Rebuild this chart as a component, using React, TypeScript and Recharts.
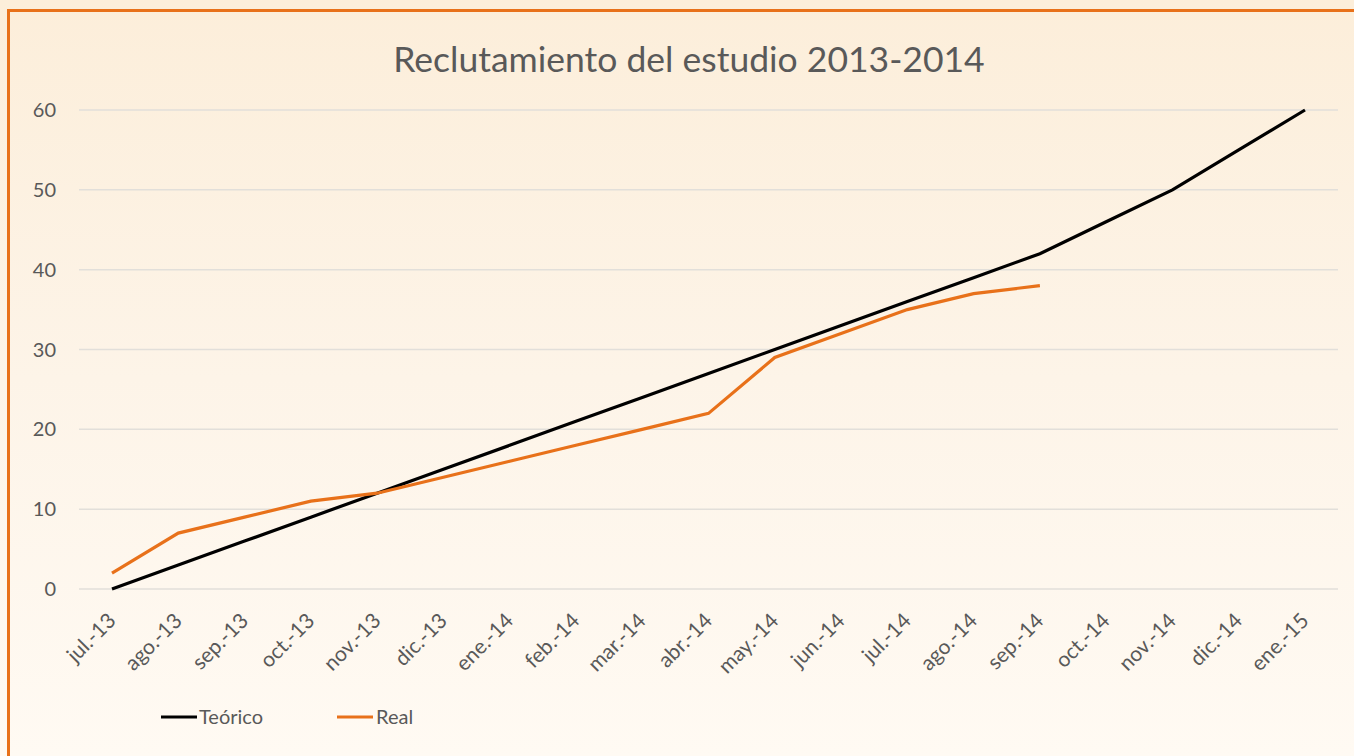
import React from "react";
import { LineChart, Line, XAxis, YAxis, CartesianGrid, Legend } from "recharts";

const months = [
  "jul.-13", "ago.-13", "sep.-13", "oct.-13", "nov.-13", "dic.-13", "ene.-14",
  "feb.-14", "mar.-14", "abr.-14", "may.-14", "jun.-14", "jul.-14", "ago.-14",
  "sep.-14", "oct.-14", "nov.-14", "dic.-14", "ene.-15",
];
const teorico = [0, 3, 6, 9, 12, 15, 18, 21, 24, 27, 30, 33, 36, 39, 42, 46, 50, 55, 60];
const real: (number | null)[] = [2, 7, 9, 11, 12, 14, 16, 18, 20, 22, 29, 32, 35, 37, 38, null, null, null, null];
const yTicks = [0, 10, 20, 30, 40, 50, 60];

const data = months.map((m, i) => ({ month: m, teorico: teorico[i], real: real[i] }));

const FONT = "Lato, 'Open Sans', sans-serif";
const TEXT = "#595959";
const ORANGE = "#E8711A";

const XTick = (props: any) => {
  const { x, y, payload } = props;
  const ex = x + 5;
  const ey = y + 33;
  return (
    <text
      x={ex}
      y={ey}
      transform={`rotate(-45, ${ex}, ${ey})`}
      textAnchor="end"
      fill={TEXT}
      fontSize={21}
      fontFamily={FONT}
    >
      {payload.value}
    </text>
  );
};

const LegendContent = () => (
  <svg width={520} height={30} style={{ display: "block", overflow: "visible" }}>
    <line x1={161} x2={197} y1={15} y2={15} stroke="#000" strokeWidth={3} />
    <text x={199} y={22} fill={TEXT} fontSize={20} fontFamily={FONT}>Teórico</text>
    <line x1={337} x2={373} y1={15} y2={15} stroke={ORANGE} strokeWidth={3} />
    <text x={376} y={22} fill={TEXT} fontSize={20} fontFamily={FONT}>Real</text>
  </svg>
);

export default function App() {
  return (
    <div
      style={{
        position: "absolute",
        left: 0,
        top: 0,
        width: 1354,
        height: 756,
        overflow: "hidden",
        background: "linear-gradient(to bottom, #FCEEDA 0%, #FDF4E8 50%, #FFFAF3 100%)",
      }}
    >
      <div
        style={{
          position: "absolute",
          left: 7,
          top: 9,
          width: 1400,
          height: 800,
          borderLeft: `3px solid ${ORANGE}`,
          borderTop: `3px solid ${ORANGE}`,
        }}
      />
      <svg width={1354} height={100} style={{ position: "absolute", left: 0, top: 0 }}>
        <text x={689} y={72} textAnchor="middle" fill={TEXT} fontSize={35.5} fontFamily={FONT}>
          Reclutamiento del estudio 2013-2014
        </text>
      </svg>
      <div style={{ position: "absolute", left: 0, top: 0 }}>
        <LineChart
          width={1354}
          height={756}
          data={data}
          margin={{ top: 110, right: 16, bottom: 77, left: 19 }}
        >
          <CartesianGrid vertical={false} stroke="#E2DFDA" strokeWidth={1.5} />
          <XAxis
            dataKey="month"
            interval={0}
            axisLine={false}
            tickLine={false}
            tickSize={0}
            tickMargin={0}
            height={60}
            padding={{ left: 33, right: 33 }}
            tick={<XTick />}
          />
          <YAxis
            domain={[0, 60]}
            ticks={yTicks}
            axisLine={false}
            tickLine={false}
            tickSize={0}
            tickMargin={23}
            width={60}
            tick={{ fill: TEXT, fontSize: 20, fontFamily: FONT }}
          />
          <Legend
            verticalAlign="bottom"
            height={30}
            content={<LegendContent />}
            wrapperStyle={{ left: 0, top: 702, width: 520, height: 30 }}
          />
          <Line
            type="linear"
            dataKey="teorico"
            name="Teórico"
            stroke="#000000"
            strokeWidth={3.2}
            dot={false}
            isAnimationActive={false}
          />
          <Line
            type="linear"
            dataKey="real"
            name="Real"
            stroke={ORANGE}
            strokeWidth={3.2}
            dot={false}
            isAnimationActive={false}
          />
        </LineChart>
      </div>
    </div>
  );
}
